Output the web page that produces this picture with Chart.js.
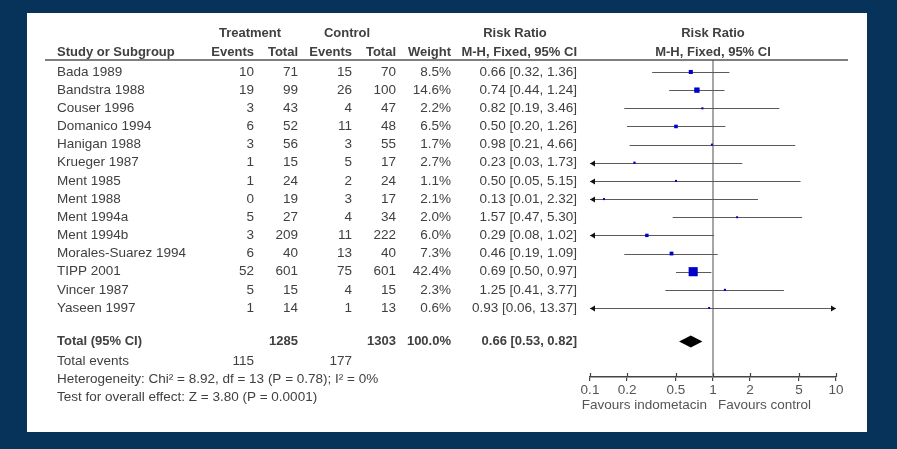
<!DOCTYPE html>
<html>
<head>
<meta charset="utf-8">
<script src="https://cdn.jsdelivr.net/npm/chart.js@4.4.0/dist/chart.umd.min.js"></script>
<style>
  html, body { margin: 0; padding: 0; background: #07325a; }
  canvas { display: block; }
</style>
</head>
<body>
<canvas id="forest" width="897" height="449"></canvas>
<script>
// du lieu doc tu hinh
const studies = ['Bada 1989', 'Bandstra 1988', 'Couser 1996', 'Domanico 1994', 'Hanigan 1988', 'Krueger 1987',
    'Ment 1985', 'Ment 1988', 'Ment 1994a', 'Ment 1994b', 'Morales-Suarez 1994', 'TIPP 2001', 'Vincer 1987', 'Yaseen 1997'];
const treatEvents = [10, 19, 3, 6, 3, 1, 1, 0, 5, 3, 6, 52, 5, 1];
const treatTotal = [71, 99, 43, 52, 56, 15, 24, 19, 27, 209, 40, 601, 15, 14];
const ctrlEvents = [15, 26, 4, 11, 3, 5, 2, 3, 4, 11, 13, 75, 4, 1];
const ctrlTotal = [70, 100, 47, 48, 55, 17, 24, 17, 34, 222, 40, 601, 15, 13];
const weights = [8.5, 14.6, 2.2, 6.5, 1.7, 2.7, 1.1, 2.1, 2.0, 6.0, 7.3, 42.4, 2.3, 0.6];
const rr = [0.66, 0.74, 0.82, 0.50, 0.98, 0.23, 0.50, 0.13, 1.57, 0.29, 0.46, 0.69, 1.25, 0.93];
const lower = [0.32, 0.44, 0.19, 0.20, 0.21, 0.03, 0.05, 0.01, 0.47, 0.08, 0.19, 0.50, 0.41, 0.06];
const upper = [1.36, 1.24, 3.46, 1.26, 4.66, 1.73, 5.15, 2.32, 5.30, 1.02, 1.09, 0.97, 3.77, 13.37];

const totalRow = { treatTotal: 1285, ctrlTotal: 1303, weight: 100.0, rr: 0.66, lower: 0.53, upper: 0.82,
    treatEvents: 115, ctrlEvents: 177 };
const tickValues = [0.1, 0.2, 0.5, 1, 2, 5, 10];

const FONT = "'Liberation Sans', Arial, sans-serif";
const TEXT = '#404040';
const TOTAL_Y = 14.85;

// cot cua bang (canh phai)
const COL = { study: 57, tEv: 254, tTot: 298, cEv: 352, cTot: 396, weight: 451, ci: 577 };

function ciText(r, l, u) {
    return r.toFixed(2) + ' [' + l.toFixed(2) + ', ' + u.toFixed(2) + ']';
}

function txt(ctx, s, x, y, align, bold) {
    ctx.font = bold ? 'bold 13px ' + FONT : '13.5px ' + FONT;
    ctx.textAlign = align;
    ctx.textBaseline = 'middle';
    ctx.fillStyle = TEXT;
    ctx.fillText(s, x, y);
}

// nen xanh + khung trang
const panelPlugin = {
    id: 'panel',
    beforeDraw(chart) {
        const ctx = chart.ctx;
        ctx.save();
        ctx.fillStyle = '#07325a';
        ctx.fillRect(0, 0, chart.width, chart.height);
        ctx.fillStyle = '#ffffff';
        ctx.fillRect(27, 13, 840, 419);
        ctx.restore();
    }
};

// bang so lieu ben trai
const tablePlugin = {
    id: 'table',
    afterDraw(chart) {
        const ctx = chart.ctx;
        const y = chart.scales.y;
        const x = chart.scales.x;
        ctx.save();
        // header
        txt(ctx, 'Treatment', 250, 33, 'center', true);
        txt(ctx, 'Control', 347, 33, 'center', true);
        txt(ctx, 'Risk Ratio', 515, 33, 'center', true);
        txt(ctx, 'Risk Ratio', x.getPixelForValue(1), 33, 'center', true);
        txt(ctx, 'Study or Subgroup', COL.study, 52, 'left', true);
        txt(ctx, 'Events', COL.tEv, 52, 'right', true);
        txt(ctx, 'Total', COL.tTot, 52, 'right', true);
        txt(ctx, 'Events', COL.cEv, 52, 'right', true);
        txt(ctx, 'Total', COL.cTot, 52, 'right', true);
        txt(ctx, 'Weight', COL.weight, 52, 'right', true);
        txt(ctx, 'M-H, Fixed, 95% CI', COL.ci, 52, 'right', true);
        txt(ctx, 'M-H, Fixed, 95% CI', x.getPixelForValue(1), 52, 'center', true);

        ctx.strokeStyle = '#555';
        ctx.lineWidth = 1.5;
        ctx.beginPath();
        ctx.moveTo(45, 60);
        ctx.lineTo(848, 60);
        ctx.stroke();

        studies.forEach((s, i) => {
            const py = y.getPixelForValue(i);
            txt(ctx, s, COL.study, py, 'left');
            txt(ctx, String(treatEvents[i]), COL.tEv, py, 'right');
            txt(ctx, String(treatTotal[i]), COL.tTot, py, 'right');
            txt(ctx, String(ctrlEvents[i]), COL.cEv, py, 'right');
            txt(ctx, String(ctrlTotal[i]), COL.cTot, py, 'right');
            txt(ctx, weights[i].toFixed(1) + '%', COL.weight, py, 'right');
            txt(ctx, ciText(rr[i], lower[i], upper[i]), COL.ci, py, 'right');
        });

        const ty = y.getPixelForValue(TOTAL_Y);
        txt(ctx, 'Total (95% CI)', COL.study, ty, 'left', true);
        txt(ctx, String(totalRow.treatTotal), COL.tTot, ty, 'right', true);
        txt(ctx, String(totalRow.ctrlTotal), COL.cTot, ty, 'right', true);
        txt(ctx, totalRow.weight.toFixed(1) + '%', COL.weight, ty, 'right', true);
        txt(ctx, ciText(totalRow.rr, totalRow.lower, totalRow.upper), COL.ci, ty, 'right', true);

        txt(ctx, 'Total events', COL.study, 361, 'left');
        txt(ctx, String(totalRow.treatEvents), COL.tEv, 361, 'right');
        txt(ctx, String(totalRow.ctrlEvents), COL.cEv, 361, 'right');
        txt(ctx, 'Heterogeneity: Chi\u00b2 = 8.92, df = 13 (P = 0.78); I\u00b2 = 0%', COL.study, 379, 'left');
        txt(ctx, 'Test for overall effect: Z = 3.80 (P = 0.0001)', COL.study, 397, 'left');

        const one = x.getPixelForValue(1);
        ctx.font = '13.5px ' + FONT;
        ctx.fillStyle = '#555';
        ctx.textBaseline = 'middle';
        ctx.textAlign = 'right';
        ctx.fillText('Favours indometacin', one - 6, 405);
        ctx.textAlign = 'left';
        ctx.fillText('Favours control', one + 5, 405);

        // vach chia nho phia tren truc
        ctx.strokeStyle = '#444';
        ctx.lineWidth = 1.2;
        tickValues.forEach(v => {
            const px = Math.round(x.getPixelForValue(v)) + 0.5;
            ctx.beginPath();
            ctx.moveTo(px, chart.chartArea.bottom - 4);
            ctx.lineTo(px, chart.chartArea.bottom);
            ctx.stroke();
        });
        ctx.restore();
    }
};

// duong CI, mui ten, duong so 1 va hinh thoi
const forestPlugin = {
    id: 'forest',
    beforeDatasetsDraw(chart) {
        const ctx = chart.ctx;
        const x = chart.scales.x;
        const y = chart.scales.y;
        const area = chart.chartArea;
        ctx.save();
        // duong thang dung tai RR = 1
        const one = x.getPixelForValue(1);
        ctx.strokeStyle = '#888';
        ctx.lineWidth = 1.5;
        ctx.beginPath();
        ctx.moveTo(one, area.top);
        ctx.lineTo(one, area.bottom);
        ctx.stroke();

        for (let i = 0; i < studies.length; i++) {
            const py = Math.round(y.getPixelForValue(i)) + 0.5;
            const lo = Math.max(lower[i], x.min);
            const hi = Math.min(upper[i], x.max);
            const x1 = x.getPixelForValue(lo);
            const x2 = x.getPixelForValue(hi);
            ctx.strokeStyle = '#5a5a5a';
            ctx.lineWidth = 1.2;
            ctx.beginPath();
            ctx.moveTo(x1, py);
            ctx.lineTo(x2, py);
            ctx.stroke();
            ctx.fillStyle = '#111';
            if (lower[i] < x.min) {
                ctx.beginPath();
                ctx.moveTo(x1, py);
                ctx.lineTo(x1 + 5, py - 3);
                ctx.lineTo(x1 + 5, py + 3);
                ctx.closePath();
                ctx.fill();
            }
            if (upper[i] > x.max) {
                ctx.beginPath();
                ctx.moveTo(x2, py);
                ctx.lineTo(x2 - 5, py - 3);
                ctx.lineTo(x2 - 5, py + 3);
                ctx.closePath();
                ctx.fill();
            }
        }

        // hinh thoi tong
        const ty = y.getPixelForValue(TOTAL_Y);
        ctx.fillStyle = '#000';
        ctx.beginPath();
        ctx.moveTo(x.getPixelForValue(totalRow.lower), ty);
        ctx.lineTo(x.getPixelForValue(totalRow.rr), ty - 6);
        ctx.lineTo(x.getPixelForValue(totalRow.upper), ty);
        ctx.lineTo(x.getPixelForValue(totalRow.rr), ty + 6);
        ctx.closePath();
        ctx.fill();
        ctx.restore();
    }
};

const ctx = document.getElementById('forest').getContext('2d');
const forestChart = new Chart(ctx, {
    type: 'scatter',
    data: {
        datasets: [{
            label: 'Risk Ratio',
            data: studies.map((s, i) => ({ x: rr[i], y: i })),
            pointStyle: 'rect',
            // canh vuong ti le voi can nang
            pointRadius: weights.map(w => Math.max(2, 1.4 * Math.sqrt(w)) / Math.SQRT2),
            pointHoverRadius: weights.map(w => Math.max(2, 1.4 * Math.sqrt(w)) / Math.SQRT2),
            backgroundColor: '#0000c8',
            borderWidth: 0
        }]
    },
    options: {
        responsive: false,
        animation: false,
        devicePixelRatio: 1,
        layout: { padding: { left: 590, right: 61, top: 60, bottom: 42 } },
        plugins: {
            legend: { display: false },
            tooltip: { enabled: false }
        },
        scales: {
            x: {
                type: 'logarithmic',
                position: 'bottom',
                min: 0.1,
                max: 10,
                afterBuildTicks: (scale) => {
                    scale.ticks = tickValues.map(v => ({ value: v }));
                },
                afterFit: (scale) => {
                    scale.height = 30;
                },
                grid: { drawOnChartArea: false, drawTicks: true, tickLength: 4, color: '#444', lineWidth: 1.2 },
                border: { display: true, color: '#444', width: 1.5 },
                ticks: {
                    autoSkip: false,
                    maxRotation: 0,
                    padding: 1,
                    color: '#555',
                    font: { family: FONT, size: 13.5 },
                    callback: (v) => String(v)
                }
            },
            y: {
                type: 'linear',
                display: false,
                reverse: true,
                min: -0.66,
                max: 16.8
            }
        }
    },
    plugins: [panelPlugin, forestPlugin, tablePlugin]
});
</script>
</body>
</html>
